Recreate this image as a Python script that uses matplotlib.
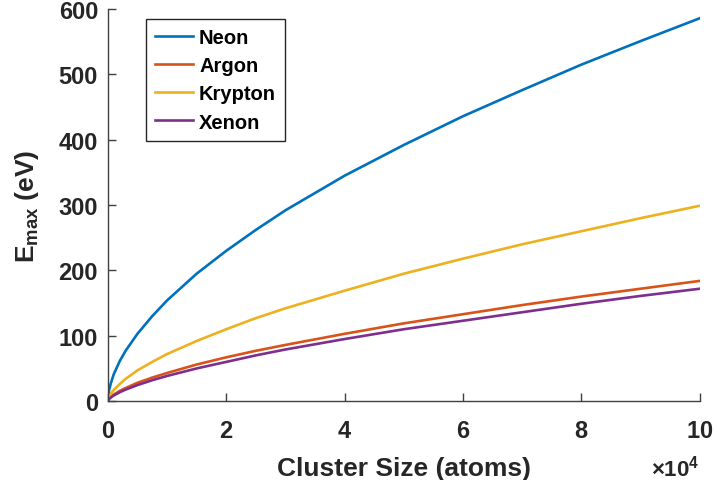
import matplotlib
matplotlib.use("Agg")
import matplotlib.pyplot as plt
import numpy as np

plt.rcParams['font.family'] = ['Liberation Sans', 'DejaVu Sans']
plt.rcParams['font.weight'] = 'bold'
plt.rcParams['mathtext.fontset'] = 'custom'
plt.rcParams['mathtext.rm'] = 'Liberation Sans:bold'
plt.rcParams['mathtext.bf'] = 'Liberation Sans:bold'
plt.rcParams['mathtext.it'] = 'Liberation Sans:bold'

# cluster size (atoms)
size = np.array([0, 200, 500, 1000, 2000, 3000, 5000, 7500, 10000, 15000, 20000,
                 25000, 30000, 40000, 50000, 60000, 70000, 80000, 90000, 100000])
# maximum ion energy (eV)
neon = [0, 16, 27, 41, 61, 77, 103, 130, 154, 195, 230,
        262, 292, 345, 392, 436, 476, 515, 551, 586]
argon = [0, 3.7, 6.5, 10, 15.6, 20, 28, 36, 43, 56, 67,
         77, 86, 103, 119, 133, 147, 160, 172, 184]
krypton = [0, 6.3, 11, 17, 26, 34, 47, 60, 72, 92, 110,
           127, 142, 169, 195, 218, 240, 260, 280, 299]
xenon = [0, 3, 5.5, 8.6, 13.5, 17.6, 24.5, 32, 38.5, 50, 60,
         70, 79, 95, 110, 123, 136, 149, 161, 172]

names = ['Neon', 'Argon', 'Krypton', 'Xenon']
colors = ['#0072BD', '#D95319', '#EDB120', '#7E2F8E']

fig = plt.figure(figsize=(7.14, 4.81), dpi=100)
ax = fig.add_axes([0.151, 0.164, 0.829, 0.815])

for y, name, c in zip([neon, argon, krypton, xenon], names, colors):
    ax.plot(size, y, color=c, lw=1.9, label=name)

ax.set_xlim(0, 100000)
ax.set_ylim(0, 600)
ax.set_xticks(np.arange(0, 100001, 20000))
ax.set_yticks(np.arange(0, 601, 100))
ax.ticklabel_format(axis='x', style='sci', scilimits=(4, 4), useMathText=True)

for s in ['top', 'right']:
    ax.spines[s].set_visible(False)
for s in ['left', 'bottom']:
    ax.spines[s].set_color('0.25')
    ax.spines[s].set_linewidth(1.0)
ax.tick_params(direction='in', length=6, width=1.0, color='0.25',
               labelsize=17, labelcolor='0.15')
ax.tick_params(axis='x', pad=13)
ax.tick_params(axis='y', pad=7)

ax.set_xlabel('Cluster Size (atoms)', fontsize=19, fontweight='bold',
              color='0.15', labelpad=10)
ax.set_ylabel(r'E$_{\mathrm{max}}$ (eV)', fontsize=19, fontweight='bold',
              color='0.15', labelpad=13)
# push the x10^4 multiplier further below the tick labels
ax.xaxis.OFFSETTEXTPAD = 9
ot = ax.xaxis.get_offset_text()
ot.set_fontsize(16)
ot.set_color('0.15')

leg = ax.legend(loc='upper left', bbox_to_anchor=(0.064, 0.974), borderaxespad=0,
                fancybox=False, edgecolor='0.15', framealpha=1, fontsize=14.5,
                handlelength=1.9, handletextpad=0.3, labelspacing=0.45,
                borderpad=0.45)
leg.get_frame().set_linewidth(1.0)

fig.savefig('out.png', dpi=100)
